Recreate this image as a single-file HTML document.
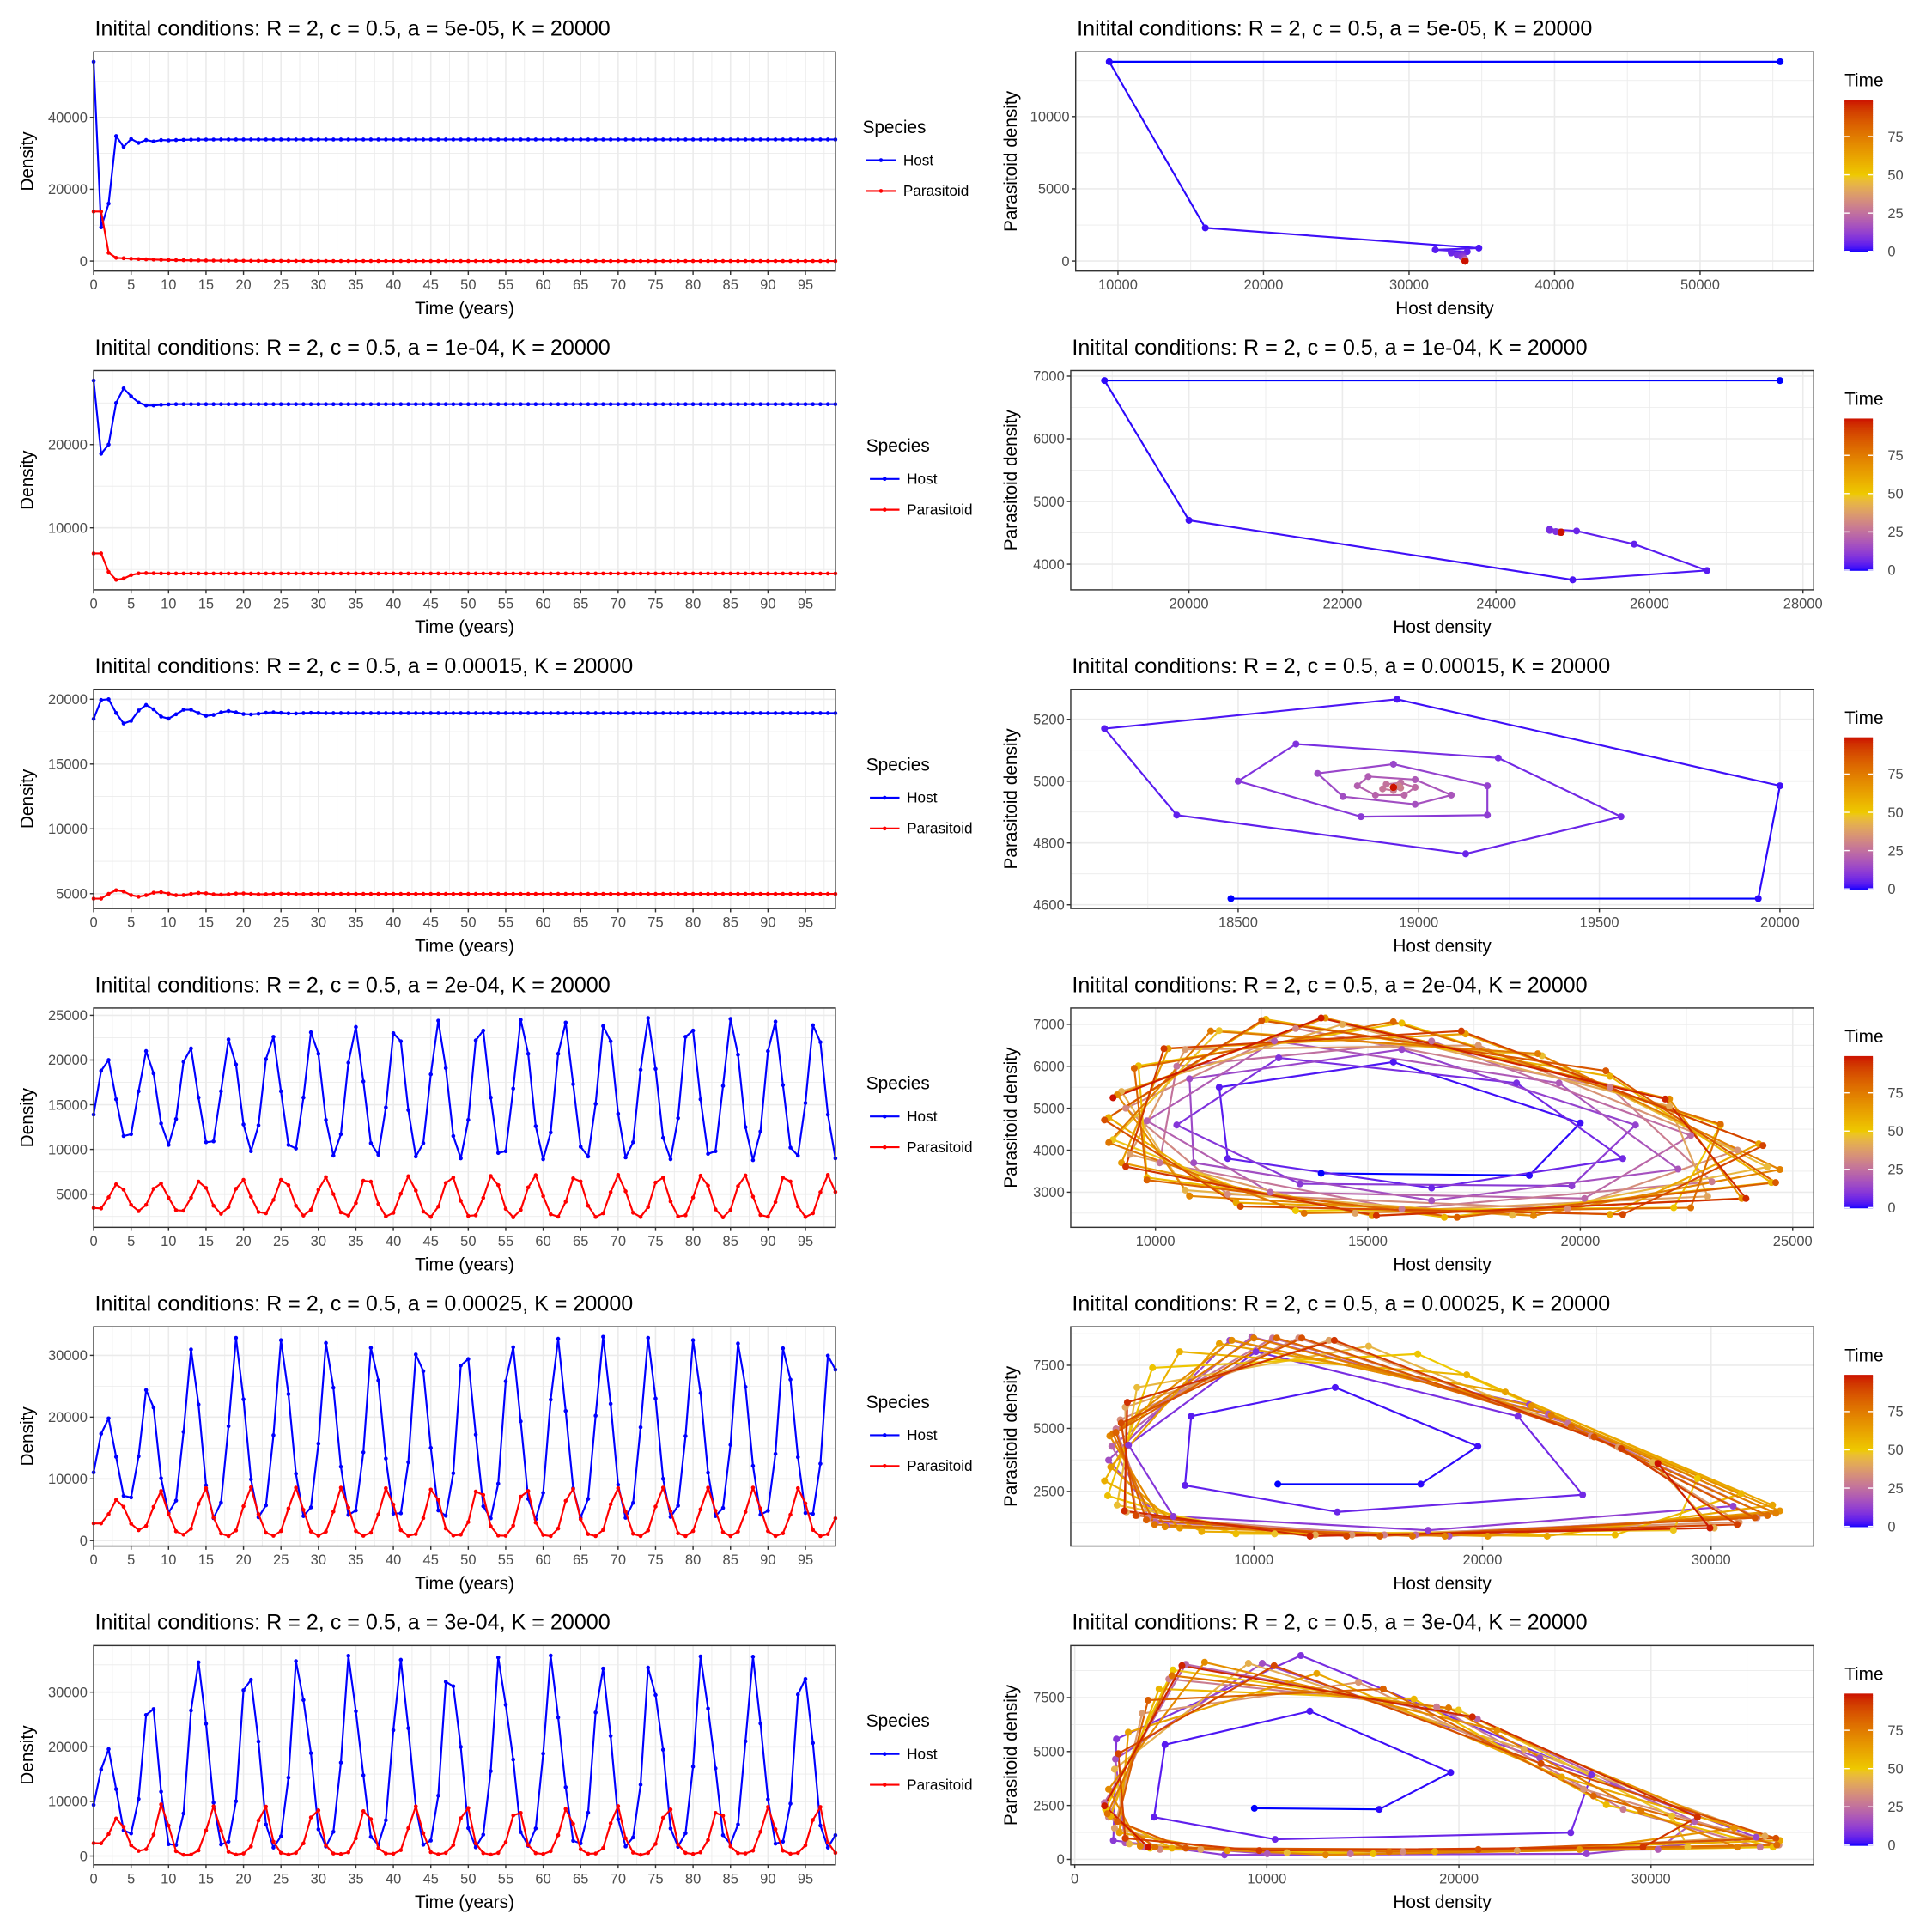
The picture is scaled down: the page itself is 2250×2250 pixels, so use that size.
<!DOCTYPE html>
<html><head><meta charset="utf-8">
<style>
html,body{margin:0;padding:0;background:#fff;}
svg{display:block;font-family:"Liberation Sans",Arial,sans-serif;}
</style></head>
<body>
<svg id="chart" width="2250" height="2250" viewBox="0 0 1568 1568" xmlns="http://www.w3.org/2000/svg"></svg>
<script>
// ---------- DATA ----------
const timeTicks = [0,5,10,15,20,25,30,35,40,45,50,55,60,65,70,75,80,85,90,95];
const aLabels = ["5e-05","1e-04","0.00015","2e-04","0.00025","3e-04"];

const host1 = [55500,9400,16000,34800,31800,34000,32900,33700,33300,33700,33600,33700,33750,33800,33820,33830,33840,33850,33850,33850,
33850,33850,33850,33850,33850,33850,33850,33850,33850,33850,33850,33850,33850,33850,33850,33850,33850,33850,33850,33850,
33850,33850,33850,33850,33850,33850,33850,33850,33850,33850,33850,33850,33850,33850,33850,33850,33850,33850,33850,33850,
33850,33850,33850,33850,33850,33850,33850,33850,33850,33850,33850,33850,33850,33850,33850,33850,33850,33850,33850,33850,
33850,33850,33850,33850,33850,33850,33850,33850,33850,33850,33850,33850,33850,33850,33850,33850,33850,33850,33850,33850];
const para1 = [13800,13800,2300,900,780,650,560,480,410,350,300,260,225,195,170,150,130,112,97,84,
73,63,55,48,42,36,31,27,24,21,18,16,14,12,10,9,8,7,6,5,
5,4,4,3,3,3,2,2,2,2,2,1,1,1,1,1,1,1,1,1,
1,1,1,1,1,1,1,0,0,0,0,0,0,0,0,0,0,0,0,0,
0,0,0,0,0,0,0,0,0,0,0,0,0,0,0,0,0,0,0,0];

const host2 = [27700,18900,20000,25000,26750,25800,25050,24700,24700,24780,24830,24850,24850,24850,24850,24850,24850,24850,24850,24850,
24850,24850,24850,24850,24850,24850,24850,24850,24850,24850,24850,24850,24850,24850,24850,24850,24850,24850,24850,24850,
24850,24850,24850,24850,24850,24850,24850,24850,24850,24850,24850,24850,24850,24850,24850,24850,24850,24850,24850,24850,
24850,24850,24850,24850,24850,24850,24850,24850,24850,24850,24850,24850,24850,24850,24850,24850,24850,24850,24850,24850,
24850,24850,24850,24850,24850,24850,24850,24850,24850,24850,24850,24850,24850,24850,24850,24850,24850,24850,24850,24850];
const para2 = [6930,6930,4700,3750,3900,4320,4530,4560,4540,4520,4510,4510,4510,4510,4510,4510,4510,4510,4510,4510,
4510,4510,4510,4510,4510,4510,4510,4510,4510,4510,4510,4510,4510,4510,4510,4510,4510,4510,4510,4510,
4510,4510,4510,4510,4510,4510,4510,4510,4510,4510,4510,4510,4510,4510,4510,4510,4510,4510,4510,4510,
4510,4510,4510,4510,4510,4510,4510,4510,4510,4510,4510,4510,4510,4510,4510,4510,4510,4510,4510,4510,
4510,4510,4510,4510,4510,4510,4510,4510,4510,4510,4510,4510,4510,4510,4510,4510,4510,4510,4510,4510];

const host3 = [18480,19940,20000,18940,18130,18330,19130,19560,19220,18660,18500,18840,19190,19190,18930,18720,18790,18990,19090,18990,
18860,18830,18880,18960,18990,18950,18910,18900,18930,18950,18945,18930,18930,18930,18930,18930,18930,18930,18930,18930,
18930,18930,18930,18930,18930,18930,18930,18930,18930,18930,18930,18930,18930,18930,18930,18930,18930,18930,18930,18930,
18930,18930,18930,18930,18930,18930,18930,18930,18930,18930,18930,18930,18930,18930,18930,18930,18930,18930,18930,18930,
18930,18930,18930,18930,18930,18930,18930,18930,18930,18930,18930,18930,18930,18930,18930,18930,18930,18930,18930,18930];
const para3 = [4620,4620,4985,5265,5170,4890,4765,4885,5075,5120,5000,4885,4890,4985,5055,5025,4950,4925,4955,5005,
5015,4985,4955,4955,4980,4995,4990,4975,4970,4978,4985,4980,4980,4980,4980,4980,4980,4980,4980,4980,
4980,4980,4980,4980,4980,4980,4980,4980,4980,4980,4980,4980,4980,4980,4980,4980,4980,4980,4980,4980,
4980,4980,4980,4980,4980,4980,4980,4980,4980,4980,4980,4980,4980,4980,4980,4980,4980,4980,4980,4980,
4980,4980,4980,4980,4980,4980,4980,4980,4980,4980,4980,4980,4980,4980,4980,4980,4980,4980,4980,4980];

const host4 = [13900,18800,20000,15600,11500,11700,16500,21000,18500,12900,
10500,13400,19800,21300,15800,10800,10900,16500,22300,19500,
12800,9800,12700,20100,22600,16500,10500,10100,15800,23100,
20700,13300,9300,11700,19700,23700,17600,10700,9400,14700,
23000,22100,14400,9200,10700,18400,24400,19100,11500,9000,
13300,22200,23300,15800,9600,9800,16800,24500,20700,12600,
8900,11900,20700,24200,17300,10300,9200,15100,23800,22100,
14000,9100,10800,18900,24700,19000,11300,8900,13500,22600,
23300,15600,9500,9800,17100,24600,20600,12500,8800,12000,
21000,24300,17200,10200,9300,15200,23900,22000,13900,9000];
const para4 = [3450,3400,4650,6100,5500,3800,3100,3800,5600,6200,
4600,3200,3150,4600,6400,5700,3700,2800,3550,5600,
6600,4700,3000,2850,4350,6600,6000,3700,2600,3250,
5500,6900,5000,2950,2600,4000,6500,6400,3900,2500,
2900,5050,7000,5400,3050,2450,3600,6250,6850,4250,
2560,2630,4590,7030,6010,3350,2400,3230,5760,7120,
4780,2750,2470,4150,6770,6420,3700,2440,2850,5220,
7150,5320,2910,2440,3540,6300,6840,4180,2500,2630,
4620,7060,5950,3290,2400,3230,5890,7090,4720,2660,
2470,4110,6840,6420,3610,2440,2850,5220,7150,5250];

const host5 = [11050,17300,19800,13560,7260,6990,13650,24380,21550,10090,
4520,6480,17620,30960,22050,8950,3650,6160,18540,32830,
22880,9910,3790,5710,17080,32460,23740,10820,3970,5390,
15710,32010,24750,11960,4160,4890,14290,31230,25940,13290,
4380,4430,12690,30140,27440,15020,4890,4020,10910,28350,
29400,17170,5570,3610,9220,25800,31320,19310,6760,3470,
7720,22830,32690,21000,8490,3740,6760,20230,33010,22150,
9040,3700,6120,18360,32830,23010,10000,3840,5660,16940,
32460,23880,11000,3970,5300,15520,31920,24880,12100,4200,
4840,14060,31140,26070,13520,4470,4340,12460,29950,27670];
const para5 = [2790,2790,4290,6620,5480,2740,1690,2370,5480,8040,
4340,1510,960,1920,5940,8490,3740,1140,730,1640,
5570,8630,4290,1280,780,1550,5210,8580,4980,1460,
780,1460,4700,8580,5340,1550,780,1280,4250,8490,
5840,1690,780,1050,3650,8260,6620,1960,820,960,
3010,7950,7400,2330,820,780,2420,7120,8040,2920,
910,730,1960,6440,8360,3470,1050,730,1730,5890,
8490,4700,1100,730,1640,5520,8580,4790,1190,730,
1550,5070,8580,4840,1370,730,1460,4660,8580,5210,
1550,730,1190,4200,8490,6030,1730,730,1050,3610];

const host6 = [9350,15850,19570,12240,4700,4130,10430,25820,26900,11770,
2170,2010,7800,26640,35470,24210,9760,2120,2630,10020,
30360,32270,20960,5780,1550,3610,14350,35680,28550,18840,
4900,1760,4440,17090,36660,26490,14770,3510,2070,6560,
23030,35930,23390,9040,2070,2840,11050,31910,31080,19980,
5110,1600,3920,15540,36350,27670,17660,4390,1860,5060,
18740,36710,25350,12600,2790,2320,7950,26280,34330,21990,
6760,1760,3410,13060,34490,29480,19460,5060,1700,4180,
16370,36550,27000,16060,3820,2220,5780,21010,36500,24270,
10380,2270,2630,9600,29580,32420,20700,5580,1550,3820];
const para6 = [2370,2320,4030,6870,5320,1960,930,1240,3920,9450,
5580,880,210,260,1030,4700,9090,4650,770,260,
460,1760,6510,9040,2630,570,260,570,2320,7070,
8360,1960,460,360,670,3250,8210,6760,1450,460,
410,1080,5110,9090,4180,720,310,570,2010,6920,
8780,2320,520,260,570,2530,7430,7900,2010,520,
360,880,3820,8620,5890,1240,410,460,1450,5990,
9140,3250,620,210,570,2220,7020,8520,2120,570,
360,670,2940,7900,7380,1760,520,460,980,4440,
8980,4900,980,410,570,1960,6610,8980,2480,570];

// tick labels per panel
const tsTicks1 = [0,20000,40000];
const tsTicks2 = [10000,20000];
const tsTicks3 = [5000,10000,15000,20000];
const tsTicks4 = [5000,10000,15000,20000,25000];
const tsTicks5 = [0,10000,20000,30000];
const tsTicks6 = [0,10000,20000,30000];
const phXTicks1 = [10000,20000,30000,40000,50000];
const phYTicks1 = [0,5000,10000];
const phXTicks2 = [20000,22000,24000,26000,28000];
const phYTicks2 = [4000,5000,6000,7000];
const phXTicks3 = [18500,19000,19500,20000];
const phYTicks3 = [4600,4800,5000,5200];
const phXTicks4 = [10000,15000,20000,25000];
const phYTicks4 = [3000,4000,5000,6000,7000];
const phXTicks5 = [10000,20000,30000];
const phYTicks5 = [2500,5000,7500];
const phXTicks6 = [0,10000,20000,30000];
const phYTicks6 = [0,2500,5000,7500];
const colorbarTicks = [0,25,50,75];

const hostSeries = [host1,host2,host3,host4,host5,host6];
const paraSeries = [para1,para2,para3,para4,para5,para6];
const tsTickSets = [tsTicks1,tsTicks2,tsTicks3,tsTicks4,tsTicks5,tsTicks6];
const phXTickSets = [phXTicks1,phXTicks2,phXTicks3,phXTicks4,phXTicks5,phXTicks6];
const phYTickSets = [phYTicks1,phYTicks2,phYTicks3,phYTicks4,phYTicks5,phYTicks6];

// ---------- RENDER ----------
const NS = "http://www.w3.org/2000/svg";
const svg = document.getElementById("chart");
function mk(tag, parent, attrs){
  const e = document.createElementNS(NS, tag);
  for (const k in attrs) e.setAttribute(k, attrs[k]);
  parent.appendChild(e);
  return e;
}
function txt(parent, x, y, s, size, fill, anchor, extra){
  const t = mk("text", parent, Object.assign({x:x, y:y, "font-size":size, fill:fill, "text-anchor":anchor||"start"}, extra||{}));
  t.textContent = s;
  return t;
}

function hex2rgb(h){return [parseInt(h.substr(1,2),16),parseInt(h.substr(3,2),16),parseInt(h.substr(5,2),16)];}
function toLin(c){c/=255;return c<=0.04045?c/12.92:Math.pow((c+0.055)/1.055,2.4);}
function fromLin(c){c=c<=0.0031308?12.92*c:1.055*Math.pow(c,1/2.4)-0.055;return Math.max(0,Math.min(255,Math.round(c*255)));}
function rgb2lab(rgb){
  const r=toLin(rgb[0]),g=toLin(rgb[1]),b=toLin(rgb[2]);
  let X=(0.4124*r+0.3576*g+0.1805*b)/0.95047,Y=(0.2126*r+0.7152*g+0.0722*b),Z=(0.0193*r+0.1192*g+0.9505*b)/1.08883;
  const f=t=>t>0.008856?Math.cbrt(t):7.787*t+16/116;
  X=f(X);Y=f(Y);Z=f(Z);
  return [116*Y-16,500*(X-Y),200*(Y-Z)];
}
function lab2rgb(l){
  let Y=(l[0]+16)/116,X=l[1]/500+Y,Z=Y-l[2]/200;
  const fi=t=>t*t*t>0.008856?t*t*t:(t-16/116)/7.787;
  X=fi(X)*0.95047;Y=fi(Y);Z=fi(Z)*1.08883;
  const r=3.2406*X-1.5372*Y-0.4986*Z,g=-0.9689*X+1.8758*Y+0.0415*Z,b=0.0557*X-0.2040*Y+1.0570*Z;
  return "rgb("+fromLin(r)+","+fromLin(g)+","+fromLin(b)+")";
}
const LOW=rgb2lab(hex2rgb("#0000FF")), MID=rgb2lab(hex2rgb("#EEC900")), HIGH=rgb2lab(hex2rgb("#CC1100"));
function timeColor(t){
  let a,b,f;
  if(t<=50){a=LOW;b=MID;f=t/50;}else{a=MID;b=HIGH;f=Math.min(1,(t-50)/49);}
  return lab2rgb([a[0]+(b[0]-a[0])*f,a[1]+(b[1]-a[1])*f,a[2]+(b[2]-a[2])*f]);
}
function ext(arrs){
  let lo=Infinity,hi=-Infinity;
  arrs.forEach(a=>a.forEach(v=>{if(v<lo)lo=v;if(v>hi)hi=v;}));
  const pad=(hi-lo)*0.05;return [lo-pad,hi+pad];
}
function grid(g, lo, hi, ticks, posFn, horiz, x0,x1,y0,y1){
  const step = ticks.length>1 ? ticks[1]-ticks[0] : (hi-lo);
  for(let m=ticks[0]-step/2; m<=hi; m+=step){
    if(m<lo) continue;
    const p=posFn(m);
    const ln = horiz ? mk("line",g,{x1:x0,x2:x1,y1:p,y2:p,stroke:"#EBEBEB","stroke-width":0.6})
                     : mk("line",g,{x1:p,x2:p,y1:y0,y2:y1,stroke:"#EBEBEB","stroke-width":0.6});
    
    
  }
  ticks.forEach(t=>{
    const p=posFn(t);
    const ln = horiz ? mk("line",g,{x1:x0,x2:x1,y1:p,y2:p,stroke:"#EBEBEB","stroke-width":1.1})
                     : mk("line",g,{x1:p,x2:p,y1:y0,y2:y1,stroke:"#EBEBEB","stroke-width":1.1});
    
    
  });
}

const ROWH = 258.7;
for(let r=0;r<6;r++){
  const oy=r*ROWH;
  const H=hostSeries[r], P=paraSeries[r];
  const title="Initital conditions: R = 2, c = 0.5, a = "+aLabels[r]+", K = 20000";

  const g=mk("g",svg,{});
  
  
  const x0=76,x1=678,y0=42+oy,y1=220+oy;
  const tt=txt(g,77,29+oy,title,17.5,"#000");
  
  
  const yr=ext([H,P]);
  const xs=t=>x0+(t-0)/99*(x1-x0);
  const ys=v=>y1-(v-yr[0])/(yr[1]-yr[0])*(y1-y0);
  const bg=mk("rect",g,{x:x0,y:y0,width:x1-x0,height:y1-y0,fill:"#fff"});
  
  
  const ticksY=tsTickSets[r];
  grid(g,yr[0],yr[1],ticksY,ys,true,x0,x1,y0,y1);
  grid(g,0,99,timeTicks,xs,false,x0,x1,y0,y1);
  [[H,"#0000FF","host-line"],[P,"#FF0000","parasitoid-line"]].forEach(s=>{
    const d=s[0].map((v,i)=>(i?"L":"M")+xs(i).toFixed(2)+","+ys(v).toFixed(2)).join("");
    const pl=mk("path",g,{d:d,fill:"none",stroke:s[1],"stroke-width":1.5,"stroke-linejoin":"round"});
    
    
    s[0].forEach((v,i)=>{
      const c=mk("circle",g,{cx:xs(i),cy:ys(v),r:1.6,fill:s[1]});
      
      
    });
  });
  const fr=mk("rect",g,{x:x0,y:y0,width:x1-x0,height:y1-y0,fill:"none",stroke:"#333","stroke-width":1});
  
  
  ticksY.forEach(t=>{
    const tk=mk("line",g,{x1:x0-3,x2:x0,y1:ys(t),y2:ys(t),stroke:"#333","stroke-width":1});
    
    
    const lb=txt(g,x0-5,ys(t)+4,String(t),11.5,"#4D4D4D","end");
    
    
  });
  timeTicks.forEach(t=>{
    const tk=mk("line",g,{x1:xs(t),x2:xs(t),y1:y1,y2:y1+3,stroke:"#333","stroke-width":1});
    
    
    const lb=txt(g,xs(t),y1+15,String(t),11.5,"#4D4D4D","middle");
    
    
  });
  const xt=txt(g,(x0+x1)/2,y1+35,"Time (years)",14.5,"#000","middle");
  
  
  const yt=txt(g,0,0,"Density",14.5,"#000","middle",{transform:"translate(27,"+((y0+y1)/2)+") rotate(-90)"});
  
  
  const lg=mk("g",g,{});
  
  
  const lx=r===0?700:703;
  const lt=txt(lg,lx,108+oy,"Species",14.5,"#000");
  
  
  [["Host","#0000FF",130],["Parasitoid","#FF0000",155]].forEach(e=>{
    const eg=mk("g",lg,{});
    
    
    mk("line",eg,{x1:lx+3,x2:lx+27,y1:e[2]+oy,y2:e[2]+oy,stroke:e[1],"stroke-width":1.5});
    mk("circle",eg,{cx:lx+15,cy:e[2]+oy,r:1.6,fill:e[1]});
    txt(eg,lx+33,e[2]+4+oy,e[0],12,"#000");
  });

  const q=mk("g",svg,{});
  
  
  const px0=r===0?873:869,px1=1472;
  const pt=txt(q,px0+1,29+oy,title,17.5,"#000");
  
  
  const hx=ext([H]), py=ext([P]);
  const pxs=v=>px0+(v-hx[0])/(hx[1]-hx[0])*(px1-px0);
  const pys=v=>y1-(v-py[0])/(py[1]-py[0])*(y1-y0);
  const pbg=mk("rect",q,{x:px0,y:y0,width:px1-px0,height:y1-y0,fill:"#fff"});
  
  
  const xT=phXTickSets[r], yT=phYTickSets[r];
  grid(q,py[0],py[1],yT,pys,true,px0,px1,y0,y1);
  grid(q,hx[0],hx[1],xT,pxs,false,px0,px1,y0,y1);
  for(let i=0;i<H.length-1;i++){
    const sg=mk("line",q,{x1:pxs(H[i]),y1:pys(P[i]),x2:pxs(H[i+1]),y2:pys(P[i+1]),stroke:timeColor(i),"stroke-width":1.5,"stroke-linecap":"round"});
    
    
  }
  for(let i=0;i<H.length;i++){
    const c=mk("circle",q,{cx:pxs(H[i]),cy:pys(P[i]),r:2.8,fill:timeColor(i)});
    
    
  }
  const pfr=mk("rect",q,{x:px0,y:y0,width:px1-px0,height:y1-y0,fill:"none",stroke:"#333","stroke-width":1});
  
  
  yT.forEach(t=>{
    const tk=mk("line",q,{x1:px0-3,x2:px0,y1:pys(t),y2:pys(t),stroke:"#333","stroke-width":1});
    
    
    const lb=txt(q,px0-5,pys(t)+4,String(t),11.5,"#4D4D4D","end");
    
    
  });
  xT.forEach(t=>{
    const tk=mk("line",q,{x1:pxs(t),x2:pxs(t),y1:y1,y2:y1+3,stroke:"#333","stroke-width":1});
    
    
    const lb=txt(q,pxs(t),y1+15,String(t),11.5,"#4D4D4D","middle");
    
    
  });
  const pxt=txt(q,(px0+px1)/2,y1+35,"Host density",14.5,"#000","middle");
  
  
  const pyt=txt(q,0,0,"Parasitoid density",14.5,"#000","middle",{transform:"translate(825,"+((y0+y1)/2)+") rotate(-90)"});
  
  

  const cb=mk("g",q,{});
  
  
  const ct=txt(cb,1497,70+oy,"Time",14.5,"#000");
  
  
  const cbTop=81+oy, cbBot=204+oy;
  const cys=t=>cbBot-t/99*(cbBot-cbTop);
  for(let k=0;k<99;k++){
    mk("rect",cb,{x:1497,y:cys(k+1),width:23,height:cys(k)-cys(k+1)+0.6,fill:timeColor(k+0.5)});
  }
  colorbarTicks.forEach(t=>{
    mk("line",cb,{x1:1497,x2:1501,y1:cys(t),y2:cys(t),stroke:"#fff","stroke-width":1});
    mk("line",cb,{x1:1516,x2:1520,y1:cys(t),y2:cys(t),stroke:"#fff","stroke-width":1});
    const lb=txt(cb,1532,cys(t)+4,String(t),11.5,"#4D4D4D");
    
    
  });
}
</script>
</body></html>
